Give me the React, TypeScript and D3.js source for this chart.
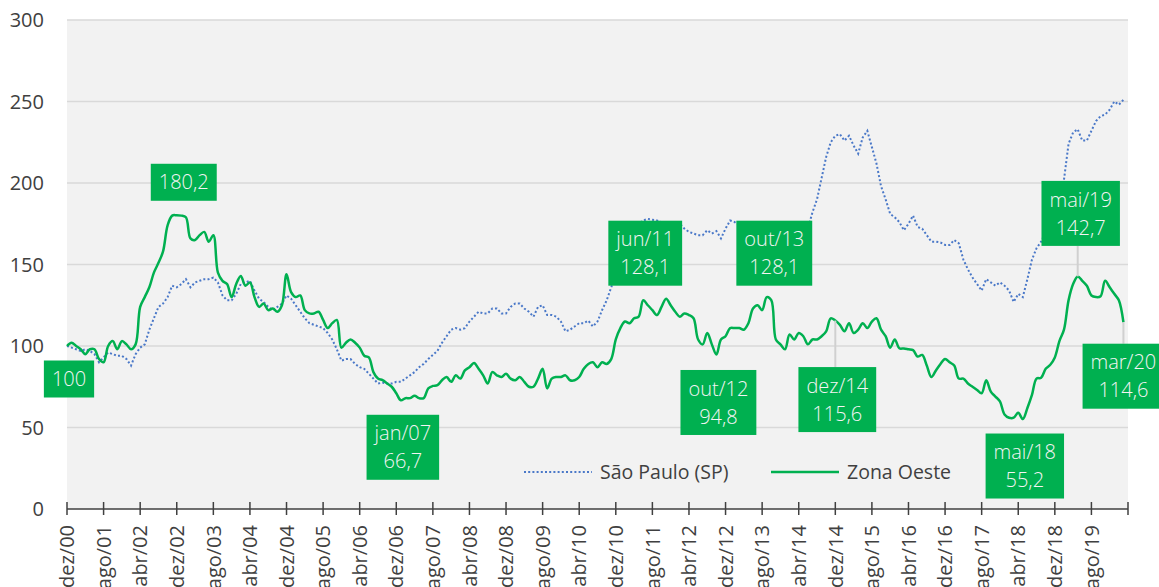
import React, { useEffect, useRef } from "react";
import * as d3 from "d3";

const W = 1159;
const H = 587;

// X axis tick labels (every 8 months starting dez/00)
const tickLabels = [
  "dez/00", "ago/01", "abr/02", "dez/02", "ago/03", "abr/04", "dez/04", "ago/05",
  "abr/06", "dez/06", "ago/07", "abr/08", "dez/08", "ago/09", "abr/10", "dez/10",
  "ago/11", "abr/12", "dez/12", "ago/13", "abr/14", "dez/14", "ago/15", "abr/16",
  "dez/16", "ago/17", "abr/18", "dez/18", "ago/19",
];
const tickStep = 8;
const yTicks = [0, 50, 100, 150, 200, 250, 300];

const seriesNames = ["São Paulo (SP)", "Zona Oeste"];

// Monthly index values, dez/00 .. mar/20
const saoPaulo = [
  100, 99, 98, 97, 98, 97, 95, 90, 93, 96, 95, 94, 94, 92, 88, 95, 99, 101, 110, 117,
  124, 126, 130, 137, 136, 138, 141, 136, 139, 140, 141, 141, 142, 139, 131, 128, 128, 132, 138, 139,
  140, 134, 129, 127, 124, 122, 124, 126, 131, 129, 125, 121, 117, 114, 113, 112, 111, 108, 104, 98,
  91, 92, 92, 89, 87, 86, 83, 80, 77, 77.5, 77, 77, 78, 78, 80, 82, 84, 87, 89, 92,
  94.5, 97, 102, 106, 110, 111, 110, 111, 115, 118, 121, 120, 120, 123, 123, 120, 120, 124, 126, 126,
  123, 121, 118, 124, 125, 119, 119, 118, 115, 109, 110, 112, 114, 114, 115.5, 112, 115, 122, 128, 136,
  143, 150, 157, 164, 170, 175, 177, 178, 177.5, 177, 176, 176, 176, 175.5, 175, 172, 170, 169, 168, 168,
  171, 169, 170.5, 166, 172, 177, 176, 174, 172, 171, 170, 168, 170, 168, 167, 168, 166, 168, 169, 171,
  172, 174, 172, 182, 190, 203, 216, 225, 229, 230, 226, 229, 223, 218, 228, 232, 222, 212, 198, 190,
  181, 179, 176, 171, 175, 180, 173, 172, 168, 164, 164, 163.5, 162, 162, 165, 163, 153, 147, 142, 138,
  134, 141, 139, 137, 139, 137, 134, 127, 132, 130, 141, 153, 160, 164, 170, 178, 186, 194, 202, 224,
  231, 233, 226, 226, 232, 238, 241, 242, 245, 250, 248, 251,
];

const zonaOeste = [
  100, 102, 100, 98, 95, 98, 98, 92, 90, 100, 103, 98, 103, 101, 98, 101, 124, 130, 136, 145,
  151, 158, 174, 180, 180.2, 180, 179, 166, 165, 168, 170, 164, 168, 145, 140, 138, 130, 138, 143, 137,
  139, 130, 124, 126, 122, 123, 121, 125, 144, 133, 130, 131, 122, 120, 120, 121, 116, 111, 114, 116,
  99, 102, 104, 102, 99, 94, 93, 84, 80, 79, 77, 75, 71, 66.7, 68, 68, 69.5, 68, 68, 74,
  75.5, 76, 79, 81, 78, 82, 80, 85, 87, 89.5, 86, 82, 77, 84, 82, 81, 83, 80, 79, 81,
  78, 75, 75, 80, 86, 74, 80, 81, 81, 82, 79, 79, 81, 86, 89, 90, 87, 90, 89, 92,
  104, 111, 115, 114, 117, 118, 128.1, 125, 122, 119, 124, 129, 125, 121, 118, 120, 119, 117, 104, 101,
  108, 101, 94.8, 104, 106, 111, 111, 111, 110, 114, 123, 125, 122, 130, 128.1, 104, 101, 98, 107, 104,
  108, 106, 101, 104, 104, 106, 109, 117, 115.6, 113, 109, 114, 108, 110, 114, 111, 115, 117, 110, 106,
  99, 104, 98.6, 98.5, 98, 97.5, 93.5, 94.5, 88, 81, 85, 89, 92, 90, 88, 80, 80, 77, 75, 73,
  71, 79, 72, 69, 66, 58, 56, 56, 59, 55.2, 62, 70, 80, 80.5, 86, 88.5, 93, 103, 110, 128,
  138, 142.7, 140, 137, 131, 130, 130.5, 140, 136, 132, 128, 114.6,
];

// Highlighted points of Zona Oeste
const annotationIndex = [0, 24, 73, 126, 142, 154, 168, 209, 221, 231];
const annotationLabels = ["", "", "jan/07", "jun/11", "out/12", "out/13", "dez/14", "mai/18", "mai/19", "mar/20"];
const annotationValues = ["100", "180,2", "66,7", "128,1", "94,8", "128,1", "115,6", "55,2", "142,7", "114,6"];
// layout offsets of each label box relative to its point
const annotationLayout = [
  { dx: 2, dy: 33, leader: false },
  { dx: 7, dy: -33, leader: false },
  { dx: 2, dy: 47, leader: false },
  { dx: 2, dy: -47, leader: false },
  { dx: 2, dy: 48, leader: false },
  { dx: 3, dy: -47, leader: false },
  { dx: 2, dy: 79, leader: true },
  { dx: 2, dy: 47, leader: false },
  { dx: 3, dy: -63, leader: true },
  { dx: 0, dy: 54, leader: true },
];

const FONT = "'Open Sans', 'Segoe UI', sans-serif";

export default function App() {
  const ref = useRef<SVGSVGElement | null>(null);

  useEffect(() => {
    const svg = d3.select(ref.current);
    svg.selectAll("*").remove();

    const nTicks = tickLabels.length; // 29 labelled ticks + end tick
    const x = d3.scaleLinear().domain([0, nTicks * tickStep]).range([67, 1128]);
    const y = d3.scaleLinear().domain([0, 300]).range([509, 20]);

    // plot background
    svg.append("rect")
      .attr("x", x(0)).attr("y", y(300))
      .attr("width", x(nTicks * tickStep) - x(0))
      .attr("height", y(0) - y(300))
      .attr("fill", "#f2f2f2");

    // gridlines
    svg.append("g").selectAll("line").data(yTicks.filter((t) => t > 0)).join("line")
      .attr("x1", x(0)).attr("x2", x(nTicks * tickStep))
      .attr("y1", (d) => y(d)).attr("y2", (d) => y(d))
      .attr("stroke", "#d9d9d9").attr("stroke-width", 1.5);

    // y labels
    svg.append("g").selectAll("text").data(yTicks).join("text")
      .attr("x", 44).attr("y", (d) => y(d)).attr("dy", "0.36em")
      .attr("text-anchor", "end")
      .attr("font-family", FONT).attr("font-size", 20)
      .attr("fill", "#404040")
      .text((d) => String(d));

    // x axis line + ticks
    svg.append("line")
      .attr("x1", x(0)).attr("x2", x(nTicks * tickStep))
      .attr("y1", y(0)).attr("y2", y(0))
      .attr("stroke", "#404040").attr("stroke-width", 1.5);
    const tickIdx = d3.range(0, nTicks * tickStep + 1, tickStep);
    svg.append("g").selectAll("line").data(tickIdx).join("line")
      .attr("x1", (d) => x(d)).attr("x2", (d) => x(d))
      .attr("y1", y(0) - 7).attr("y2", y(0) + 6)
      .attr("stroke", "#404040").attr("stroke-width", 1.5);

    svg.append("g").selectAll("text").data(tickLabels).join("text")
      .attr("transform", (_d, i) => `translate(${x(i * tickStep)},${y(0) + 16}) rotate(-90)`)
      .attr("dy", "0.36em")
      .attr("text-anchor", "end")
      .attr("font-family", FONT).attr("font-size", 20)
      .attr("fill", "#404040")
      .text((d) => d);

    // lines
    const spLine = d3.line<number>().x((_d, i) => x(i)).y((d) => y(d)).curve(d3.curveLinear);
    const zoLine = d3.line<number>().x((_d, i) => x(i)).y((d) => y(d)).curve(d3.curveCatmullRom.alpha(0.5));

    svg.append("path").attr("d", spLine(saoPaulo) as string)
      .attr("fill", "none").attr("stroke", "#4a78c8").attr("stroke-width", 2)
      .attr("stroke-dasharray", "2 2.2");
    svg.append("path").attr("d", zoLine(zonaOeste) as string)
      .attr("fill", "none").attr("stroke", "#00b050").attr("stroke-width", 2.5)
      .attr("stroke-linejoin", "round");

    // legend
    const leg = svg.append("g");
    const legItems = [
      { x0: 524, color: "#4a78c8", dash: "2 2.2", w: 2 },
      { x0: 771, color: "#00b050", dash: null, w: 2.5 },
    ];
    legItems.forEach((it, k) => {
      leg.append("line").attr("x1", it.x0).attr("x2", it.x0 + 68)
        .attr("y1", 472).attr("y2", 472)
        .attr("stroke", it.color).attr("stroke-width", it.w)
        .attr("stroke-dasharray", it.dash);
      leg.append("text").attr("x", it.x0 + 76).attr("y", 472).attr("dy", "0.36em")
        .attr("font-family", FONT).attr("font-size", 19.5).attr("fill", "#404040")
        .text(seriesNames[k]);
    });

    // annotations
    const ann = svg.append("g");
    annotationIndex.forEach((idx, k) => {
      const lay = annotationLayout[k];
      const px = x(idx);
      const py = y(zonaOeste[idx]);
      const cx = px + lay.dx;
      const cy = py + lay.dy;
      const lines = annotationLabels[k] ? [annotationLabels[k], annotationValues[k]] : [annotationValues[k]];
      const g = ann.append("g");
      const texts = lines.map((t, li) =>
        g.append("text")
          .attr("x", cx)
          .attr("y", lines.length === 2 ? cy + (li === 0 ? -14 : 14) : cy)
          .attr("dy", "0.36em")
          .attr("text-anchor", "middle")
          .attr("font-family", FONT).attr("font-size", 20).attr("font-weight", 300)
          .attr("fill", "#f4f4f4")
          .text(t)
      );
      let tw = 0;
      texts.forEach((t) => {
        const n = t.node() as SVGTextElement;
        tw = Math.max(tw, n.getComputedTextLength());
      });
      const bw = tw + 16;
      const bh = lines.length === 2 ? 65 : 37;
      const top = cy - bh / 2;
      if (lay.leader) {
        const edge = lay.dy > 0 ? top : top + bh;
        ann.insert("line", ":first-child")
          .attr("x1", px).attr("x2", px).attr("y1", py).attr("y2", edge)
          .attr("stroke", "#d0d0d0").attr("stroke-width", 2);
      }
      g.insert("rect", ":first-child")
        .attr("x", cx - bw / 2).attr("y", top)
        .attr("width", bw).attr("height", bh)
        .attr("fill", "#00b050");
    });
  }, []);

  return (
    <div style={{ position: "absolute", left: 0, top: 0 }}>
      <svg ref={ref} width={W} height={H} style={{ display: "block" }} />
    </div>
  );
}
